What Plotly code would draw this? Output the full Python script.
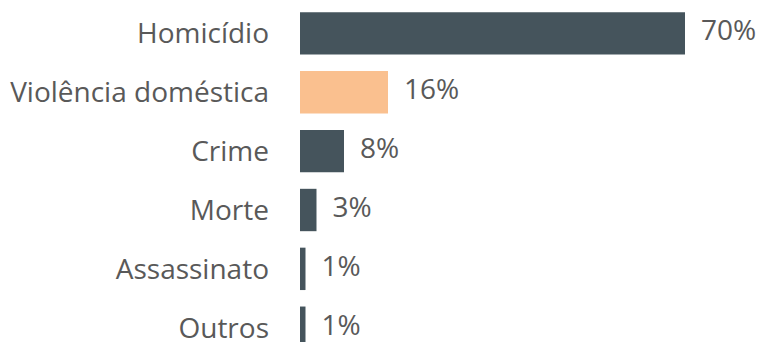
import plotly.graph_objects as go

# Categories (top to bottom) and their shares in percent
categories = ["Homicídio", "Violência doméstica", "Crime", "Morte", "Assassinato", "Outros"]
values = [70, 16, 8, 3, 1, 1]
value_labels = ["70%", "16%", "8%", "3%", "1%", "1%"]
highlight = "Violência doméstica"

DARK = "#45545C"
ORANGE = "#FAC08F"
TEXT = "#595959"
FONT = "Open Sans, sans-serif"

PX_PER_UNIT = 5.5          # horizontal scale: pixels per percentage point
PLOT_W = 459               # plot-area width in pixels
LABEL_GAP_PX = 16          # gap between bar end and its value label

colors = [ORANGE if c == highlight else DARK for c in categories]

fig = go.Figure()
fig.add_trace(
    go.Bar(
        x=values,
        y=categories,
        orientation="h",
        marker=dict(color=colors, line=dict(width=0)),
        width=0.72,
        hoverinfo="skip",
    )
)

# value labels just past the end of each bar
fig.add_trace(
    go.Scatter(
        x=[v + LABEL_GAP_PX / PX_PER_UNIT for v in values],
        y=categories,
        mode="text",
        text=value_labels,
        textposition="middle right",
        textfont=dict(family=FONT, size=28, color=TEXT),
        cliponaxis=False,
        hoverinfo="skip",
    )
)

fig.update_layout(
    width=759, height=345,
    margin=dict(l=300, r=0, t=0, b=0),
    paper_bgcolor="white", plot_bgcolor="white",
    showlegend=False,
    xaxis=dict(range=[0, PLOT_W / PX_PER_UNIT], visible=False, fixedrange=True),
    yaxis=dict(
        type="category",
        categoryorder="array", categoryarray=categories,
        range=[5.2425, -0.5675],
        showgrid=False, zeroline=False, showline=False,
        ticks="", ticklabelstandoff=30,
        tickfont=dict(family=FONT, size=28, color=TEXT),
        fixedrange=True,
    ),
)

fig.write_html("out.html")
